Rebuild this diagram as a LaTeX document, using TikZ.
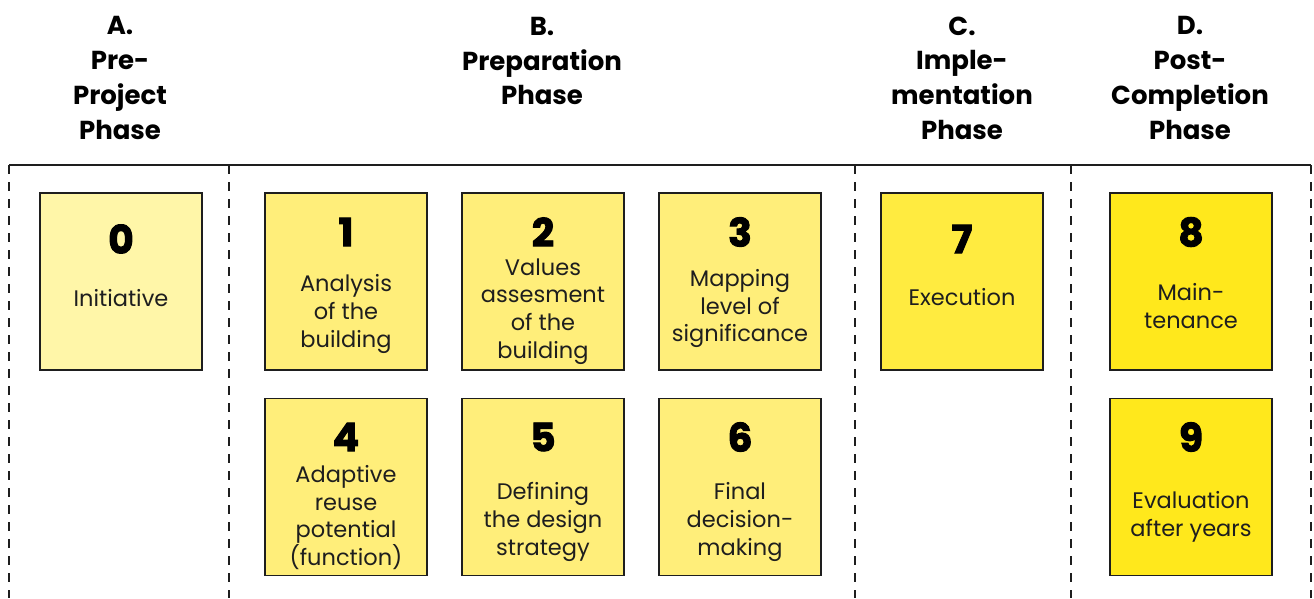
\documentclass[tikz,border=0pt]{standalone}
\usepackage{fontspec}
\setmainfont{Poppins}
\newfontfamily\numfont[FakeBold=2.5]{Poppins}
\definecolor{yA}{HTML}{FFF6A8}
\definecolor{yB}{HTML}{FFEE7A}
\definecolor{yC}{HTML}{FFEB40}
\definecolor{yD}{HTML}{FFE81C}
\definecolor{ink}{HTML}{1E1E1E}
\tikzset{
  box/.style={draw=ink, line width=1.8pt, minimum width=162pt, minimum height=177pt, inner sep=0pt},
  num/.style={font=\numfont\bfseries\fontsize{39}{39}\selectfont, text=black, inner sep=0pt},
  lbl/.style={font=\fontsize{22.5}{27.8}\selectfont, text=ink, align=center, inner sep=0pt},
  hdr/.style={font=\bfseries\fontsize{26}{34.7}\selectfont, text=black, align=center, inner sep=0pt},
  sep/.style={draw=ink, line width=2pt, dash pattern=on 9pt off 8pt},
}
\begin{document}
\begin{tikzpicture}[x=1pt,y=-1pt]
\useasboundingbox (0,0) rectangle (1314,598);
% headers
\node[hdr] (hA) at (120,78) {A.\\Pre-\\Project\\Phase};
\node[hdr] (hB) at (542,61) {B.\\Preparation\\Phase};
\node[hdr] (hC) at (962,78) {C.\\Imple-\\mentation\\Phase};
\node[hdr] (hD) at (1190,78) {D.\\Post-\\Completion\\Phase};
% frame
\coordinate (tl) at (9,165);
\coordinate (tr) at (1311,165);
\draw[ink, line width=2pt] (tl) -- (tr);
\foreach \x [count=\i] in {9,229,855,1071,1311}{
  \coordinate (st\i) at (\x,165);
  \coordinate (sb\i) at (\x,598);
  \draw[sep] (st\i) -- (sb\i);
}
% boxes
\node[box, fill=yA] (b0) at (121,281.5) {};
\node[box, fill=yB] (b1) at (346,281.5) {};
\node[box, fill=yB] (b2) at (543,281.5) {};
\node[box, fill=yB] (b3) at (740,281.5) {};
\node[box, fill=yB] (b4) at (346,487) {};
\node[box, fill=yB] (b5) at (543,487) {};
\node[box, fill=yB] (b6) at (740,487) {};
\node[box, fill=yC] (b7) at (962,281.5) {};
\node[box, fill=yD] (b8) at (1191,281.5) {};
\node[box, fill=yD] (b9) at (1191,487) {};
% numbers
\node[num] (n0) at (121,239) {0};
\node[num] (n1) at (346,232) {1};
\node[num] (n2) at (543,232) {2};
\node[num] (n3) at (740,232) {3};
\node[num] (n4) at (346,437) {4};
\node[num] (n5) at (543,437) {5};
\node[num] (n6) at (740,437) {6};
\node[num] (n7) at (962,239) {7};
\node[num] (n8) at (1191,232) {8};
\node[num] (n9) at (1191,437) {9};
% labels
\node[lbl] (t0) at (121,298) {Initiative};
\node[lbl] (t1) at (346,314) {Analysis\\of the\\building};
\node[lbl] (t2) at (543,311.5) {Values\\assesment\\of the\\building};
\node[lbl] (t3) at (740,308.5) {Mapping\\level of\\significance};
\node[lbl] (t4) at (346,517.5) {Adaptive\\reuse\\potential\\(function)};
\node[lbl] (t5) at (543,522) {Defining\\the design\\strategy};
\node[lbl] (t6) at (740,522) {Final\\decision-\\making};
\node[lbl] (t7) at (962,297) {Execution};
\node[lbl] (t8) at (1191,306) {Main-\\tenance};
\node[lbl] (t9) at (1191,517) {Evaluation\\after years};
\end{tikzpicture}
\end{document}
